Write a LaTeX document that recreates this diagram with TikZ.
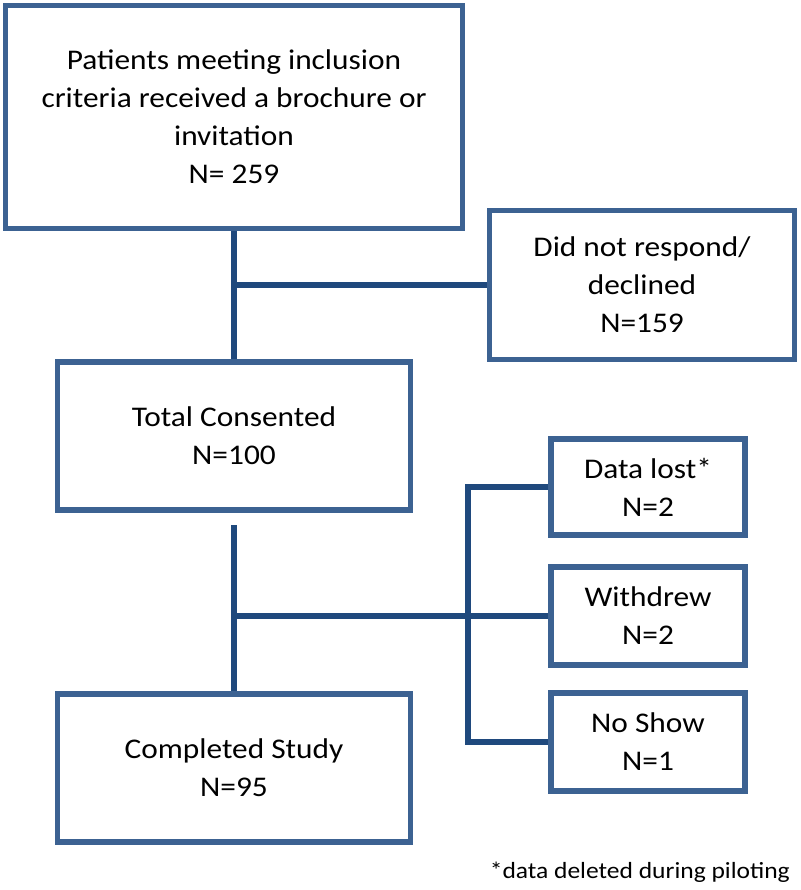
\documentclass[tikz,border=0pt]{standalone}
\usepackage{fontspec}
\setmainfont{Carlito}[FakeStretch=1.1]
\definecolor{boxblue}{RGB}{60,98,146}
\definecolor{lineblue}{RGB}{31,73,125}
\begin{document}
\begin{tikzpicture}[x=1pt,y=-1pt,
  box/.style={draw=boxblue,line width=5.5pt,fill=white,align=center,inner sep=0pt,
    font=\fontsize{28.5}{38}\selectfont},
  conn/.style={draw=lineblue,line width=5.5pt}]
\useasboundingbox (0,0) rectangle (800,890);
\node[box,minimum width=457,minimum height=223] (top) at (234,117)
  {Patients meeting inclusion\\criteria received a brochure or\\invitation\\N= 259};
\node[box,minimum width=305,minimum height=149] (did) at (642,285)
  {Did not respond/\\declined\\N=159};
\node[box,minimum width=353,minimum height=148] (tc) at (234,436)
  {Total Consented\\N=100};
\node[box,minimum width=194,minimum height=96] (dl) at (648,487)
  {Data lost*\\N=2};
\node[box,minimum width=194,minimum height=98] (wd) at (648,616)
  {Withdrew\\N=2};
\node[box,minimum width=194,minimum height=98] (ns) at (648,742)
  {No Show\\N=1};
\node[box,minimum width=353,minimum height=148] (cs) at (234,768)
  {Completed Study\\N=95};
\node[anchor=east,inner sep=0pt,font=\fontsize{23.2}{26}\selectfont] (foot) at (790,872)
  {*data deleted during piloting};
\coordinate (c1) at (234,525);
\coordinate (bx) at (468,0);
\draw[conn] (top.south) -- (tc.north);
\draw[conn] (top.south |- did.west) -- (did.west);
\draw[conn] (c1) -- (cs.north);
\draw[conn] (c1 |- wd.west) -- (wd.west);
\draw[conn] (dl.west) -- (bx |- dl.west) -- (bx |- ns.west) -- (ns.west);
\end{tikzpicture}
\end{document}
